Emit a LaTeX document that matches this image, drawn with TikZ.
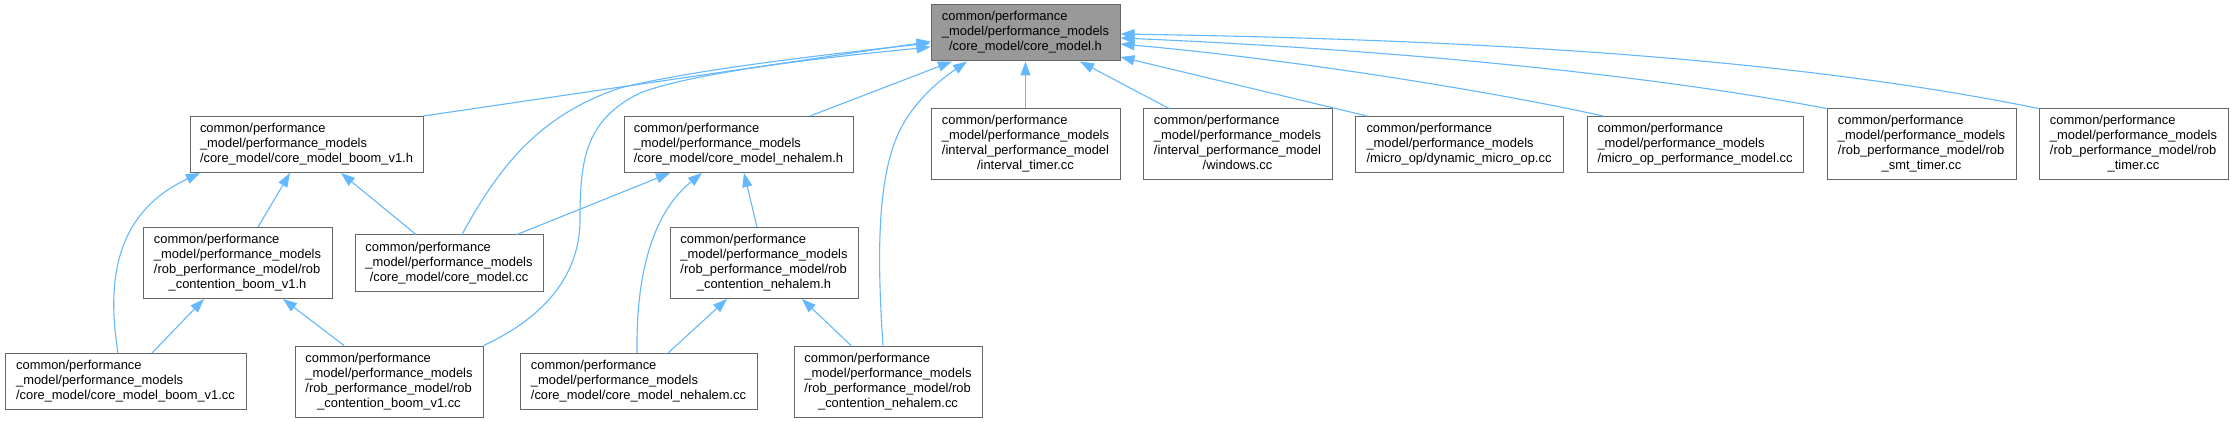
\documentclass[tikz,border=0pt]{standalone}
\usepackage{fontspec}
\setmainfont{Liberation Sans}
\usetikzlibrary{arrows.meta}
\definecolor{edgeblue}{HTML}{63B8FF}
\definecolor{boxgray}{HTML}{666666}
\definecolor{mainfill}{HTML}{999999}
\newcommand{\lbl}[2]{\begin{tabular}{@{}l@{}}#1\multicolumn{1}{@{}c@{}}{#2}\end{tabular}}
\newcommand{\cpm}{common/performance\\\_model/performance\_models\\}
\tikzset{
  box/.style={draw=boxgray, line width=1pt, fill=white, inner sep=0pt,
    font=\fontsize{12.9}{15}\selectfont, minimum width=189pt, minimum height=56pt},
  tall/.style={minimum height=71pt},
  dep/.style={draw=edgeblue, line width=1.1pt, -{Triangle[length=14pt,width=10pt]}}
}
\begin{document}
\begin{tikzpicture}[x=1pt,y=-1pt]
\fill[white] (0,0) rectangle (2233,422);
\useasboundingbox (0,0) rectangle (2233,422);
% nodes
\node[box, fill=mainfill] (M) at (1025.5,33) {\lbl{\cpm}{/core\_model/core\_model.h}};
\node[box, minimum width=233pt] (A) at (306.5,144.5) {\lbl{\cpm}{/core\_model/core\_model\_boom\_v1.h}};
\node[box, tall] (B) at (237.5,263) {\lbl{\cpm/rob\_performance\_model/rob\\}{\_contention\_boom\_v1.h}};
\node[box, minimum width=188pt] (C) at (449,263) {\lbl{\cpm}{/core\_model/core\_model.cc}};
\node[box, minimum width=241pt] (D) at (125.5,381.5) {\lbl{\cpm}{/core\_model/core\_model\_boom\_v1.cc}};
\node[box, tall, minimum width=188pt] (E) at (389,381.5) {\lbl{\cpm/rob\_performance\_model/rob\\}{\_contention\_boom\_v1.cc}};
\node[box, minimum width=237pt] (F) at (638.5,381.5) {\lbl{\cpm}{/core\_model/core\_model\_nehalem.cc}};
\node[box, minimum width=229pt] (N) at (738.5,144.5) {\lbl{\cpm}{/core\_model/core\_model\_nehalem.h}};
\node[box, tall, minimum width=188pt] (G) at (764,263) {\lbl{\cpm/rob\_performance\_model/rob\\}{\_contention\_nehalem.h}};
\node[box, tall, minimum width=188pt] (H) at (888,381.5) {\lbl{\cpm/rob\_performance\_model/rob\\}{\_contention\_nehalem.cc}};
\node[box, tall] (I) at (1025.5,144.5) {\lbl{\cpm/interval\_performance\_model\\}{/interval\_timer.cc}};
\node[box, tall] (J) at (1237.5,144.5) {\lbl{\cpm/interval\_performance\_model\\}{/windows.cc}};
\node[box, minimum width=208pt] (K) at (1459,144.5) {\lbl{\cpm}{/micro\_op/dynamic\_micro\_op.cc}};
\node[box, minimum width=216pt] (L) at (1695,144.5) {\lbl{\cpm}{/micro\_op\_performance\_model.cc}};
\node[box, tall] (O) at (1921.5,144.5) {\lbl{\cpm/rob\_performance\_model/rob\\}{\_smt\_timer.cc}};
\node[box, tall] (P) at (2133.5,144.5) {\lbl{\cpm/rob\_performance\_model/rob\\}{\_timer.cc}};
% edges into M from the left
\draw[dep] (A.north east) -- ([yshift=-8.5pt]M.west);
\draw[dep] ([xshift=13pt]C.north) .. controls (500,165) and (540,115) .. (620,88) .. controls (700,68) and (850,52) .. ([yshift=-10pt]M.west);
\draw[dep] (E.north east) .. controls (550,315) and (580,270) .. (580,220) .. controls (580,160) and (585,120) .. (640,93) .. controls (700,70) and (850,55) .. ([yshift=-14pt]M.west);
% boom subtree
\draw[dep] ([xshift=-7.5pt]D.north) .. controls (108,290) and (110,215) .. ([xshift=-106.5pt]A.south);
\draw[dep] ([xshift=20.5pt]B.north) -- ([xshift=-16.5pt]A.south);
\draw[dep] ([xshift=-33pt]C.north) -- ([xshift=34.5pt]A.south);
\draw[dep] ([xshift=26.5pt]D.north) -- ([xshift=-33.5pt]B.south);
\draw[dep] ([xshift=-45pt]E.north) -- ([xshift=45.5pt]B.south);
% nehalem subtree
\draw[dep] ([xshift=68pt]C.north) -- ([xshift=-68.5pt]N.south);
\draw[dep] ([xshift=-1.5pt]F.north) .. controls (636,280) and (650,215) .. ([xshift=-36.5pt]N.south);
\draw[dep] ([xshift=-7pt]G.north) -- ([xshift=5.5pt]N.south);
\draw[dep] ([xshift=29.5pt]F.north) -- ([xshift=-37pt]G.south);
\draw[dep] ([xshift=-37pt]H.north) -- ([xshift=38pt]G.south);
% edges into M from below
\draw[dep] ([xshift=-5pt]H.north) .. controls (878,270) and (875,180) .. (900,130) .. controls (915,100) and (940,80) .. ([xshift=-58.5pt]M.south);
\draw[dep] ([xshift=71.5pt]N.north) -- ([xshift=-73.5pt]M.south);
\draw[dep] (I.north) -- (M.south);
\draw[dep] ([xshift=-68.5pt]J.north) -- ([xshift=54.5pt]M.south);
% edges into M from the right
\draw[dep] ([xshift=-92pt]K.north) -- ([yshift=-24pt]M.east);
\draw[dep] ([xshift=-92pt]L.north) .. controls (1500,93) and (1300,60) .. ([yshift=-11pt]M.east);
\draw[dep] (O.north west) .. controls (1650,75) and (1400,50) .. ([yshift=-5pt]M.east);
\draw[dep] (P.north west) .. controls (1800,60) and (1500,40) .. ([yshift=-1pt]M.east);
\end{tikzpicture}
\end{document}
